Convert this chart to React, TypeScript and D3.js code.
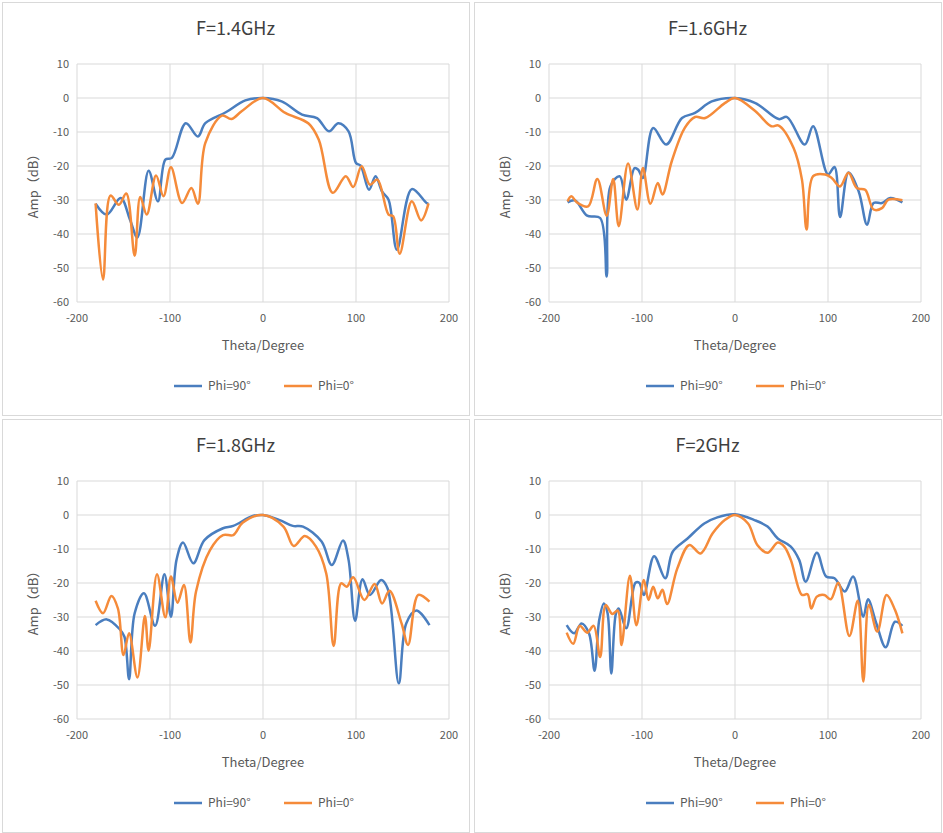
import * as d3 from "d3";

type Pt = [number, number];

const titles = ["F=1.4GHz", "F=1.6GHz", "F=1.8GHz", "F=2GHz"];
const xTicks = [-200, -100, 0, 100, 200];
const yTicks = [10, 0, -10, -20, -30, -40, -50, -60];
const seriesNames = ["Phi=90°", "Phi=0°"];

const b14: Pt[] = [[-180,-31.1],[-168,-34.3],[-153,-29.4],[-143,-35.8],[-135,-41],[-123,-21.4],[-113,-30.4],[-105,-18.1],[-98,-17.6],[-83,-7.4],[-70,-11.3],[-62,-7.4],[-40,-4.2],[-19,-0.7],[0,0],[20,-1],[42,-4.9],[58,-5.9],[71,-9.8],[81,-7.4],[92,-9.8],[100,-19.1],[105,-19.9],[114,-27],[121,-23],[128,-27.5],[135,-29.9],[144,-44.6],[160,-26.8],[176,-30.9],[178,-31]];
const o14: Pt[] = [[-180,-31],[-172,-53.4],[-164,-28.7],[-155,-31.4],[-147,-28.1],[-138,-46.4],[-132,-29.1],[-125,-34.3],[-115,-22.8],[-107,-28.9],[-99,-20.4],[-87,-30.9],[-77,-26.5],[-70,-31.1],[-62,-13.2],[-44,-5.2],[-34,-6.2],[-23,-3.9],[0,0],[24,-4.4],[49,-7.5],[60,-12.3],[75,-27.9],[89,-23],[97,-26.2],[106,-20.1],[115,-25.5],[123,-24],[135,-34.3],[140,-34.8],[147,-45.8],[160,-30.4],[170,-36],[178,-31]];
const b16: Pt[] = [[-180,-30.7],[-172,-30.1],[-159,-34.6],[-145,-35.3],[-138,-52.5],[-134,-26],[-124,-23],[-117,-29.9],[-108,-20.6],[-104,-21.1],[-99,-23.5],[-88,-8.8],[-74,-13.7],[-57,-5.9],[-43,-4.4],[-25,-1],[0,0],[22,-1.5],[47,-6.2],[56,-5.6],[75,-13.7],[84,-8.3],[100,-22.5],[107,-20.3],[113,-35],[122,-21.9],[133,-27.5],[142,-37.3],[149,-30.9],[158,-30.9],[167,-29.4],[180,-30.7]];
const o16: Pt[] = [[-180,-30.4],[-176,-28.9],[-170,-30.7],[-158,-31.9],[-148,-23.8],[-138,-34.6],[-131,-23.8],[-125,-37.7],[-115,-19.3],[-105,-32.8],[-99,-20.6],[-91,-31.1],[-83,-25],[-78,-28.4],[-68,-18.6],[-54,-8.8],[-43,-5.6],[-32,-5.9],[-11,-1.5],[0,0],[22,-3.9],[39,-8.3],[47,-8.1],[63,-14.7],[72,-24],[77,-38.7],[84,-23],[97,-22.5],[104,-23.5],[113,-26],[122,-22],[131,-26.5],[140,-27],[149,-32.8],[158,-32.4],[165,-29.9],[180,-30.1]];
const b18: Pt[] = [[-180,-32.4],[-168,-30.7],[-154,-33.6],[-149,-35.8],[-144,-48.3],[-138,-28.9],[-128,-23],[-116,-32.6],[-106,-17.4],[-99,-29.9],[-93,-13.2],[-86,-8.1],[-75,-14.2],[-63,-7.4],[-43,-3.9],[-32,-3.2],[-11,-0.3],[0,0],[18,-1.5],[32,-3.2],[43,-3.4],[63,-7.8],[74,-14.7],[86,-7.5],[92,-13.2],[99,-31.1],[107,-18.9],[115,-23.5],[127,-19.1],[134,-21.6],[146,-49.5],[154,-31.9],[165,-28.1],[179,-32.4]];
const o18: Pt[] = [[-180,-25.2],[-172,-28.9],[-163,-23.8],[-156,-27.5],[-150,-41.2],[-144,-34.8],[-135,-47.8],[-127,-29.7],[-123,-39.9],[-114,-17.4],[-105,-30.1],[-99,-18.1],[-92,-25.8],[-85,-20.6],[-78,-37.5],[-72,-22.5],[-57,-10.3],[-43,-5.9],[-32,-5.9],[-22,-2.3],[0,0],[22,-3.4],[33,-9.1],[45,-6.2],[57,-9.3],[68,-17.2],[76,-38.5],[84,-20.1],[90,-21.1],[97,-18.3],[109,-25],[120,-20.3],[128,-26],[136,-22.3],[149,-31.9],[156,-38.2],[167,-23.5],[179,-25.5]];
const b20: Pt[] = [[-181,-32.4],[-173,-34.8],[-165,-31.9],[-157,-34.8],[-151,-45.8],[-146,-30.9],[-141,-26],[-137,-28.9],[-133,-46.6],[-128,-28.9],[-125,-27.5],[-117,-33.3],[-107,-19.9],[-103,-19.9],[-98,-23.5],[-87,-12.1],[-75,-18.6],[-67,-10.8],[-51,-6.9],[-33,-2.5],[-19,-0.7],[0,0.2],[21,-1.5],[35,-3.4],[46,-6.9],[60,-9.3],[69,-13.2],[76,-19.6],[88,-11.1],[98,-18.1],[107,-18.6],[118,-22.5],[127,-18.1],[138,-29.9],[143,-24.8],[152,-31.9],[162,-38.9],[172,-31.4],[180,-32.6]];
const o20: Pt[] = [[-181,-34.6],[-174,-37.9],[-167,-32.6],[-159,-34.6],[-152,-32.6],[-145,-41.8],[-139,-26.5],[-132,-29.1],[-126,-28.1],[-122,-38.2],[-113,-17.9],[-106,-32.4],[-98,-19.1],[-93,-25],[-88,-21.1],[-83,-24.5],[-78,-22],[-73,-26.2],[-62,-15.7],[-49,-8.8],[-37,-11.3],[-24,-5.4],[-11,-1.5],[0,0],[14,-2.5],[24,-8.8],[35,-11.1],[46,-8.1],[53,-9.3],[60,-13.2],[72,-23.5],[78,-23.3],[82,-27.5],[88,-24],[96,-23.5],[103,-24.8],[111,-19.9],[123,-35.6],[132,-25.2],[138,-49],[144,-26.5],[153,-34.3],[163,-23.5],[172,-27.9],[180,-34.8]];

const panelData: Pt[][][] = [[b14, o14], [b16, o16], [b18, o18], [b20, o20]];
const colors = ["#4a7ebf", "#f58b3a"];

const PW = 467;
const PH = 413;
const origins: Pt[] = [[2, 2], [474, 2], [2, 419], [474, 419]];

const x = d3.scaleLinear([-200, 200], [75, 447]);
const y = d3.scaleLinear([-60, 10], [300, 62]);
const line = d3
  .line<Pt>()
  .x((d) => x(d[0]))
  .y((d) => y(d[1]))
  .curve(d3.curveCatmullRom.alpha(0.5));

const font = "'Noto Sans CJK SC', 'Noto Sans', sans-serif";

const Panel = ({ i }: { i: number }) => {
  const [ox, oy] = origins[i];
  return (
    <g transform={`translate(${ox},${oy})`}>
      <rect x={0.5} y={0.5} width={PW} height={PH} fill="#fff" stroke="#d9d9d9" />
      <text x={PW / 2} y={33} textAnchor="middle" fontSize={18} fill="#404040">
        {titles[i]}
      </text>
      {yTicks.map((t) => (
        <g key={t}>
          <line x1={x(-200)} x2={x(200)} y1={y(t)} y2={y(t)} stroke="#d9d9d9" />
          <text x={x(-200) - 8} y={y(t) + 4} textAnchor="end" fontSize={11} fill="#595959">
            {t}
          </text>
        </g>
      ))}
      {xTicks.map((t) => (
        <g key={t}>
          <line x1={x(t)} x2={x(t)} y1={y(10)} y2={y(-60)} stroke="#d9d9d9" />
          <text x={x(t)} y={y(-60) + 20} textAnchor="middle" fontSize={11} fill="#595959">
            {t}
          </text>
        </g>
      ))}
      <text
        transform={`translate(36,${(y(10) + y(-60)) / 2}) rotate(-90)`}
        textAnchor="middle"
        fontSize={13}
        fill="#595959"
      >
        Amp（dB）
      </text>
      <text x={x(0)} y={y(-60) + 48} textAnchor="middle" fontSize={13} fill="#595959">
        Theta/Degree
      </text>
      {panelData[i].map((s, k) => (
        <path key={k} d={line(s) ?? ""} fill="none" stroke={colors[k]} strokeWidth={2.5} />
      ))}
      {seriesNames.map((n, k) => (
        <g key={n} transform={`translate(${172 + k * 110},${y(-60) + 84})`}>
          <line x1={0} x2={28} y1={0} y2={0} stroke={colors[k]} strokeWidth={2.5} />
          <text x={34} y={4} fontSize={12} fill="#595959">
            {n}
          </text>
        </g>
      ))}
    </g>
  );
};

export default function App() {
  return (
    <svg
      width={943}
      height={833}
      style={{ position: "absolute", left: 0, top: 0, fontFamily: font }}
    >
      <rect width={943} height={833} fill="#fff" />
      {titles.map((_, i) => (
        <Panel key={i} i={i} />
      ))}
    </svg>
  );
}
